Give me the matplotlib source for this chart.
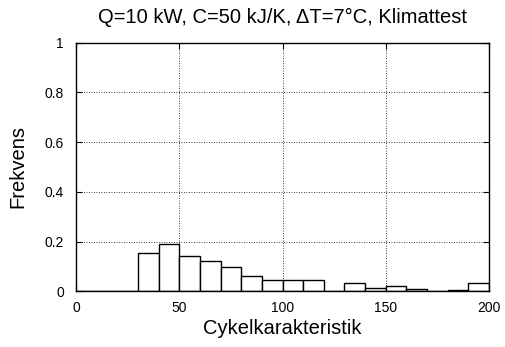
import matplotlib.pyplot as plt
import numpy as np

plt.rcParams['font.family'] = ['Liberation Sans', 'DejaVu Sans']

# histogram of cycle characteristic, bins of width 10
bin_left = np.arange(0, 200, 10)
freq = [0, 0, 0, 0.153, 0.192, 0.143, 0.120, 0.097, 0.061, 0.047,
        0.047, 0.045, 0, 0.033, 0.012, 0.021, 0.010, 0, 0.006, 0.033]

fig = plt.figure(figsize=(5.05, 3.47), dpi=100)
ax = fig.add_axes([0.151, 0.1605, 0.817, 0.7165])

ax.bar(bin_left, freq, width=10, align='edge', facecolor='white',
       edgecolor='black', linewidth=1.0, zorder=3)

ax.set_xlim(0, 200)
ax.set_ylim(0, 1)
ax.set_xticks([0, 50, 100, 150, 200])
ax.set_yticks([0, 0.2, 0.4, 0.6, 0.8, 1])
ax.set_yticklabels(['0', '0.2', '0.4', '0.6', '0.8', '1'])
ax.grid(True, linestyle=(0, (1, 2)), color='black', linewidth=0.6, zorder=0)
ax.tick_params(direction='in', length=4, width=0.8, top=True, right=True,
               labelsize=10)
ax.tick_params(axis='x', pad=7)
ax.tick_params(axis='y', pad=9)
for s in ax.spines.values():
    s.set_linewidth(1.0)
    s.set_zorder(4)

ax.set_title('Q=10 kW, C=50 kJ/K, \u0394T=7\u00b0C, Klimattest', fontsize=14.5, pad=14)
ax.set_xlabel('Cykelkarakteristik', fontsize=14.5, labelpad=3)
ax.set_ylabel('Frekvens', fontsize=14.5, labelpad=12)

fig.savefig('out.png', dpi=100)
